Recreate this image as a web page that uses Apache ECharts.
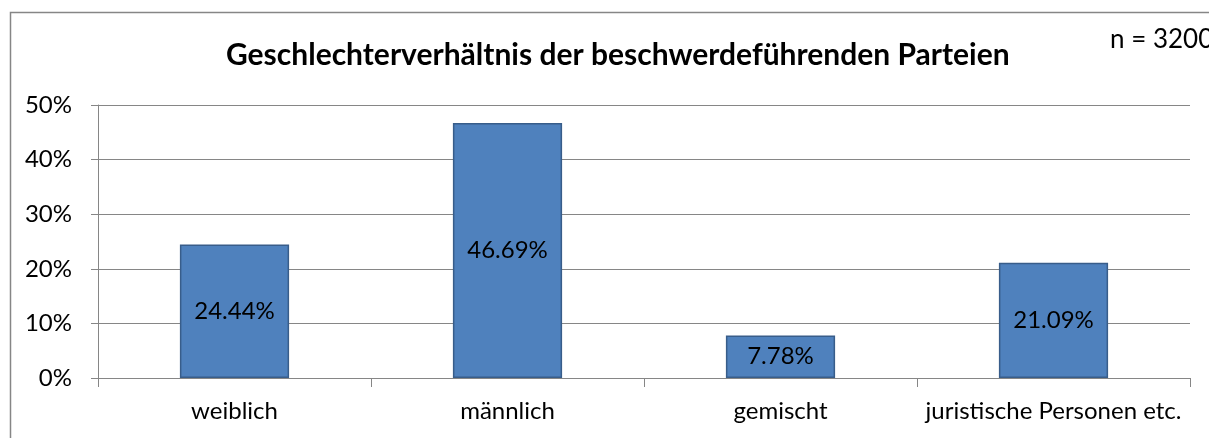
<!DOCTYPE html>
<html>
<head>
<meta charset="utf-8">
<script src="https://cdn.jsdelivr.net/npm/echarts@6/dist/echarts.min.js"></script>
<style>
  html, body { margin: 0; padding: 0; background: #fff; }
  #chart { width: 1209px; height: 438px; }
</style>
</head>
<body>
<div id="chart"></div>
<script>
// chart data
const categories = ['weiblich', 'männlich', 'gemischt', 'juristische Personen etc.'];
const shares = [24.44, 46.69, 7.78, 21.09];
const yTicks = [0, 10, 20, 30, 40, 50];

const font = 'Lato, "Open Sans", sans-serif';

const myChart = echarts.init(document.getElementById('chart'));

const option = {
  animation: false,
  backgroundColor: '#fff',
  title: {
    text: 'Geschlechterverhältnis der beschwerdeführenden Parteien',
    left: 221,
    top: 35,
    textStyle: { fontFamily: font, fontSize: 30, fontWeight: 'bold', color: '#000' }
  },
  graphic: [
    {
      type: 'rect',
      shape: { x: 10.5, y: 12.5, width: 1220, height: 450 },
      style: { fill: 'none', stroke: '#868686', lineWidth: 1.5 },
      silent: true
    },
    {
      type: 'text',
      left: 1110,
      top: 27,
      style: { text: 'n = 3200', font: '26px ' + font, fill: '#000' }
    }
  ],
  grid: { left: 98, right: 19, top: 105, bottom: 60 },
  xAxis: {
    type: 'category',
    data: categories,
    axisLine: { lineStyle: { color: '#868686', width: 1 } },
    axisTick: { show: true, interval: 0, length: 9, lineStyle: { color: '#868686' } },
    axisLabel: { interval: 0, hideOverlap: false, fontFamily: font, fontSize: 24, color: '#000', margin: 21 }
  },
  yAxis: {
    type: 'value',
    min: 0,
    max: yTicks[yTicks.length - 1],
    interval: 10,
    axisLine: { show: true, lineStyle: { color: '#868686', width: 1 } },
    axisTick: { show: true, length: 7, lineStyle: { color: '#868686' } },
    splitLine: { lineStyle: { color: '#868686', width: 1 } },
    axisLabel: {
      fontFamily: font, fontSize: 24, color: '#000', margin: 26,
      formatter: (v) => v + '%'
    }
  },
  series: [{
    type: 'bar',
    data: shares,
    barWidth: '40%',
    itemStyle: { color: '#4F81BD', borderColor: '#385D8A', borderWidth: 1.5 },
    label: {
      show: true,
      position: 'inside',
      fontFamily: font,
      fontSize: 24,
      color: '#000',
      formatter: (p) => p.value.toFixed(2) + '%'
    }
  }]
};

myChart.setOption(option);
</script>
</body>
</html>
